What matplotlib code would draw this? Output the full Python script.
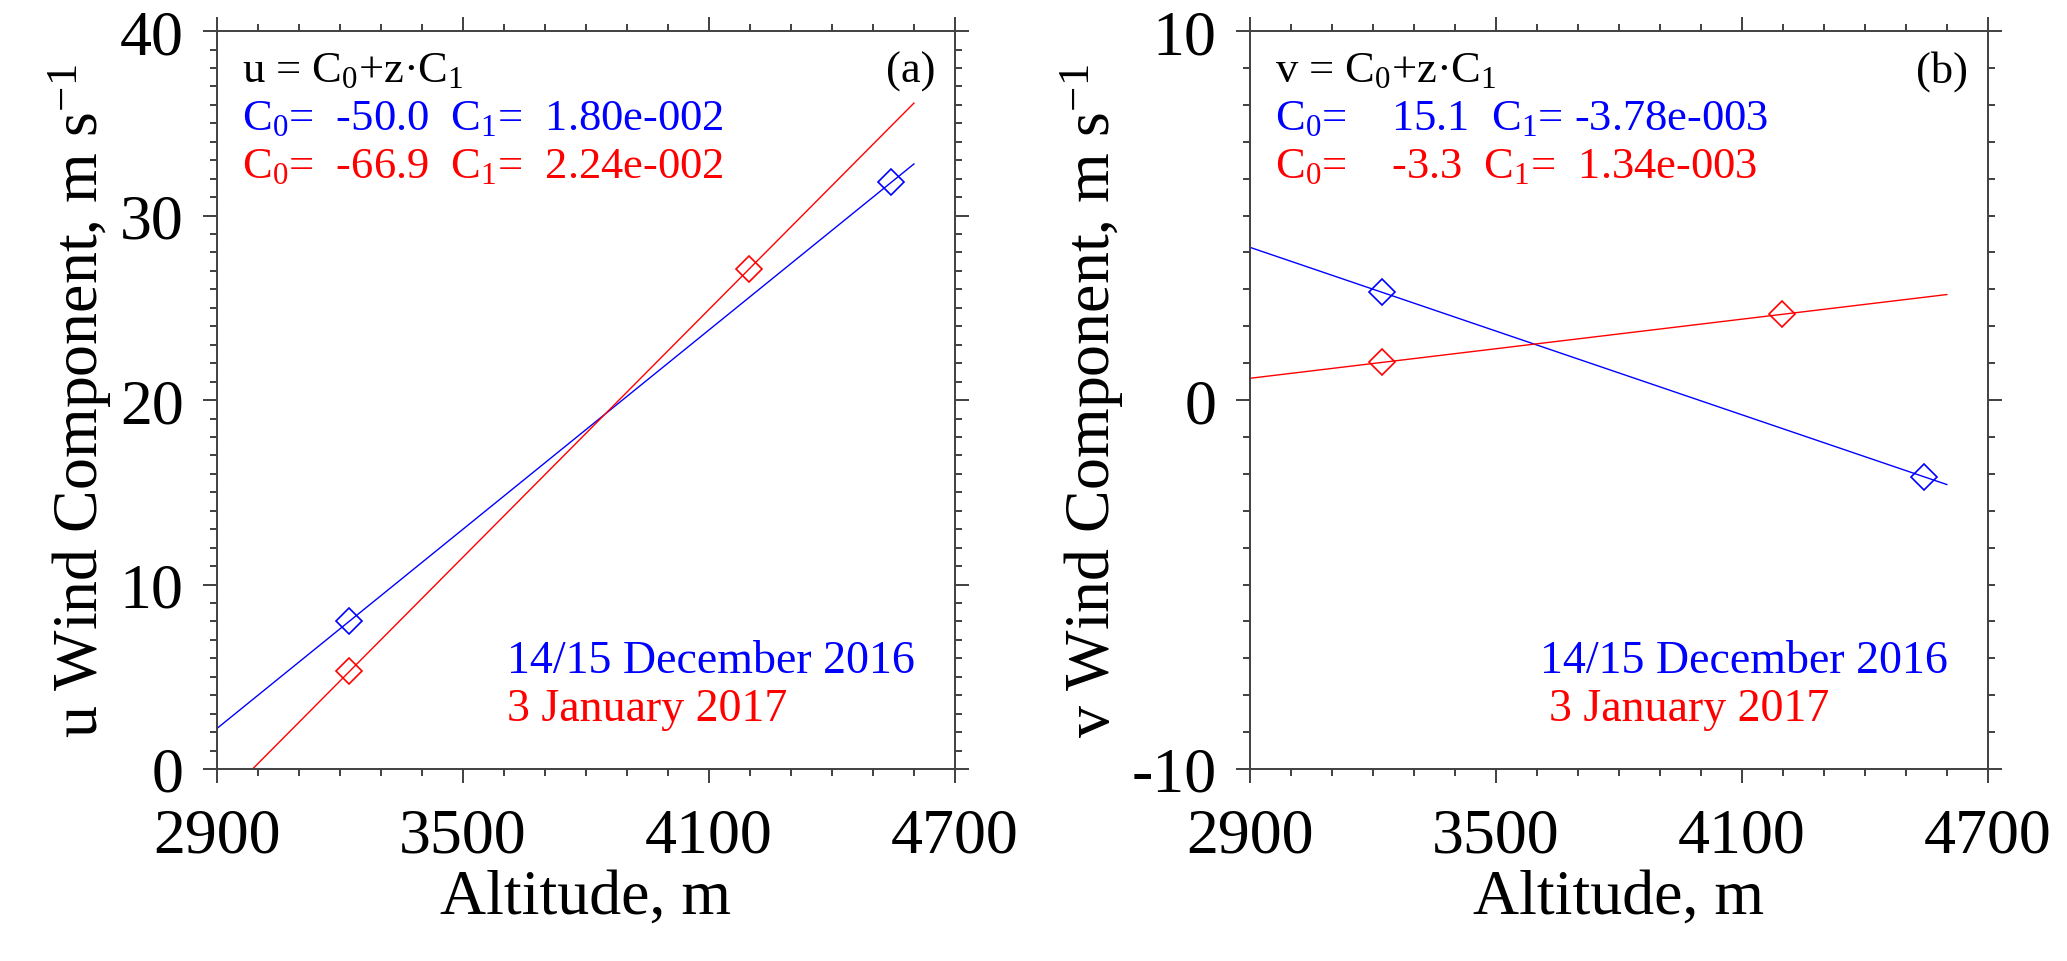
import matplotlib
matplotlib.use("Agg")
import matplotlib.pyplot as plt
from matplotlib.ticker import MultipleLocator

plt.rcParams['font.family'] = ['Liberation Serif', 'DejaVu Serif']
plt.rcParams['mathtext.default'] = 'regular'
plt.rcParams['axes.unicode_minus'] = False

# altitude of the measured points (m)
z_dec = [3223, 4545]
z_jan = [3223, 4197]
# wind components at those altitudes (m/s)
u_dec = [8.0, 31.8]
u_jan = [5.3, 27.1]
v_dec = [2.92, -2.08]
v_jan = [1.02, 2.32]

# fitted lines, read at both ends
z_fit = [2900, 4600]
u_fit_dec = [2.2, 32.8]
u_fit_jan = [-1.94, 36.1]
v_fit_dec = [4.14, -2.29]
v_fit_jan = [0.59, 2.86]

x_ticks = [2900, 3500, 4100, 4700]
coef_u = ["C$_0$=  -50.0  C$_1$=  1.80e-002", "C$_0$=  -66.9  C$_1$=  2.24e-002"]
coef_v = ["C$_0$=    15.1  C$_1$= -3.78e-003", "C$_0$=    -3.3  C$_1$=  1.34e-003"]

blue = '#0000ff'
red = '#ff0000'
spine_col = '#404040'

fig = plt.figure(figsize=(20.67, 9.62), dpi=100)
ax1 = fig.add_axes([0.105, 0.1996, 0.357, 0.767])
ax2 = fig.add_axes([0.6047, 0.1996, 0.357, 0.767])


def setup(ax, ylim, ylabel):
    ax.set_xlim(2900, 4700)
    ax.set_ylim(*ylim)
    ax.set_xticks(x_ticks)
    ax.xaxis.set_minor_locator(MultipleLocator(100))
    ax.yaxis.set_major_locator(MultipleLocator(10))
    ax.yaxis.set_minor_locator(MultipleLocator(1))
    ax.tick_params(which='both', direction='out', top=True, right=True,
                   color=spine_col, width=1.4, labelsize=46)
    ax.tick_params(which='major', length=10, pad=14)
    ax.tick_params(which='minor', length=5)
    ax.tick_params(axis='x', which='major', pad=18)
    for s in ax.spines.values():
        s.set_color(spine_col)
        s.set_linewidth(1.4)
    ax.set_xlabel('Altitude, m', fontsize=46, labelpad=2)
    ax.set_ylabel(ylabel, fontsize=46, labelpad=4)


def panel(ax, y_fit_d, y_fit_j, y_d, y_j, var, coefs, tag):
    ax.plot(z_fit, y_fit_d, color=blue, lw=1.0)
    ax.plot(z_fit, y_fit_j, color=red, lw=1.0)
    ax.plot(z_dec, y_d, ls='none', marker='D', ms=13, mfc='none', mec=blue, mew=1.2)
    ax.plot(z_jan, y_j, ls='none', marker='D', ms=13, mfc='none', mec=red, mew=1.2)
    kw = dict(transform=ax.transAxes, fontsize=32, va='baseline')
    ax.text(0.034, 0.932, var + ' = C$_0$+z\u00b7C$_1$', color='black', **kw)
    ax.text(0.034, 0.867, coefs[0], color=blue, **kw)
    ax.text(0.034, 0.802, coefs[1], color=red, **kw)
    ax.text(0.973, 0.932, tag, color='black', ha='right', **kw)


setup(ax1, (0, 40), 'u Wind Component, m s$^{-1}$')
setup(ax2, (-10, 10), 'v Wind Component, m s$^{-1}$')

panel(ax1, u_fit_dec, u_fit_jan, u_dec, u_jan, 'u', coef_u, '(a)')
panel(ax2, v_fit_dec, v_fit_jan, v_dec, v_jan, 'v', coef_v, '(b)')

dkw = dict(fontsize=33, va='baseline')
ax1.text(0.393, 0.131, '14/15 December 2016', color=blue, transform=ax1.transAxes, **dkw)
ax1.text(0.393, 0.066, '3 January 2017', color=red, transform=ax1.transAxes, **dkw)
ax2.text(0.393, 0.131, '14/15 December 2016', color=blue, transform=ax2.transAxes, **dkw)
ax2.text(0.405, 0.066, '3 January 2017', color=red, transform=ax2.transAxes, **dkw)

fig.savefig('out.png', dpi=100)
